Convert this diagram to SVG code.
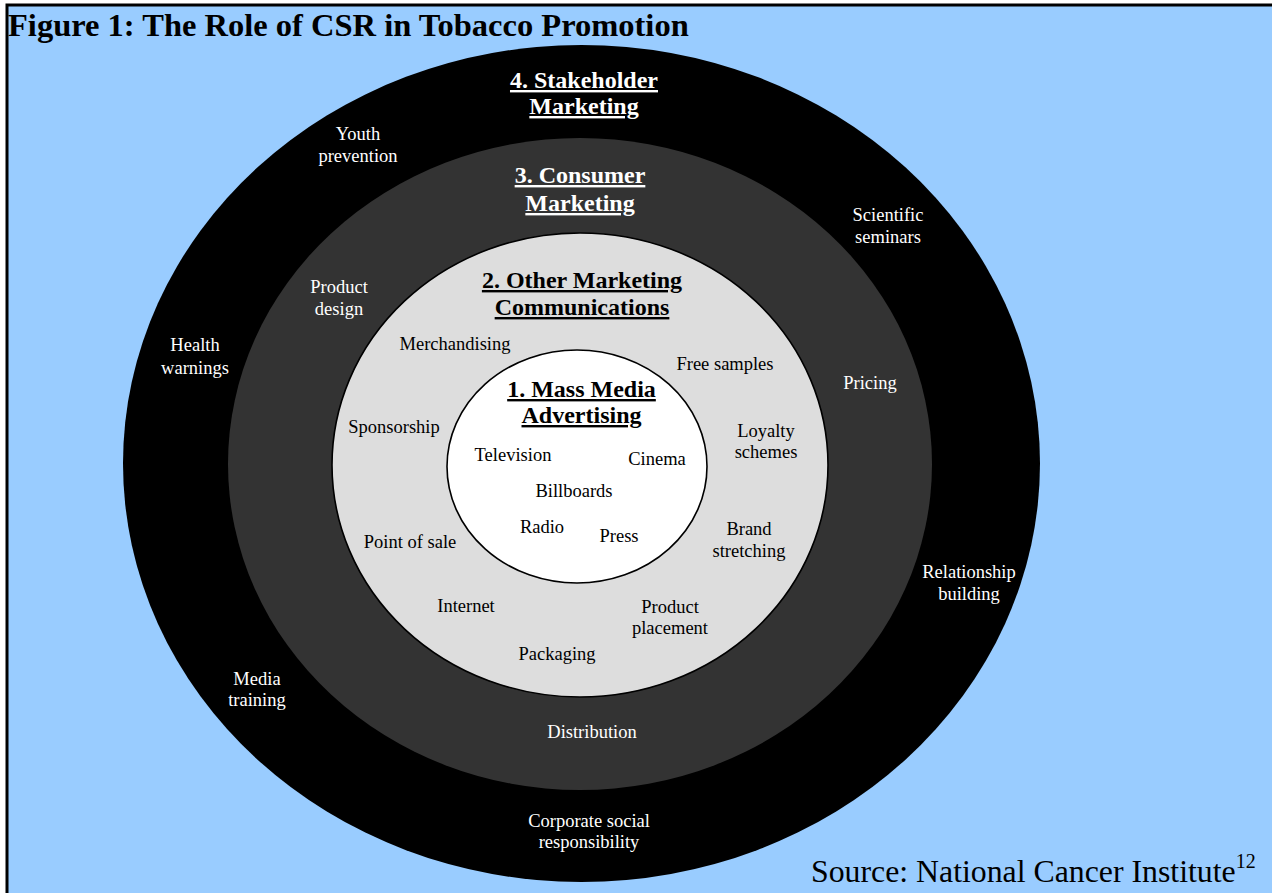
<svg xmlns="http://www.w3.org/2000/svg" width="1272" height="893" viewBox="0 0 1272 893">
<style>
.t{font-family:"Liberation Serif","Times New Roman",serif;font-size:18.5px;text-anchor:middle}
.w{fill:#FFFFFF}
.b{fill:#000000}
.h{font-family:"Liberation Serif","Times New Roman",serif;font-size:24px;font-weight:bold;text-anchor:middle;text-decoration:underline}
.ring{stroke:#000;stroke-width:1.6}
</style>
<rect x="0" y="0" width="1272" height="893" fill="#FFFFFF"/>
<rect id="frame" x="7" y="5" width="1300" height="1000" fill="#99CCFF" stroke="#000" stroke-width="3"/>
<g id="title">
<text x="8" y="36" font-family="Liberation Serif,Times New Roman,serif" font-size="32.5" font-weight="bold" fill="#000">Figure 1: The Role of CSR in Tobacco Promotion</text>
</g>
<g id="ring4">
<ellipse cx="581.5" cy="463.5" rx="458.5" ry="418.5" fill="#000"/>
<text class="h w" x="584" y="88">4. Stakeholder</text>
<text class="h w" x="584" y="114">Marketing</text>
<g id="youth"><text class="t w" x="358" y="140">Youth</text><text class="t w" x="358" y="162">prevention</text></g>
<g id="sci"><text class="t w" x="888" y="221">Scientific</text><text class="t w" x="888" y="243">seminars</text></g>
<g id="health"><text class="t w" x="195" y="351">Health</text><text class="t w" x="195" y="374">warnings</text></g>
<g id="relationship"><text class="t w" x="969" y="578">Relationship</text><text class="t w" x="969" y="600">building</text></g>
<g id="media"><text class="t w" x="257" y="685">Media</text><text class="t w" x="257" y="706">training</text></g>
<g id="csr"><text class="t w" x="589" y="827">Corporate social</text><text class="t w" x="589" y="848">responsibility</text></g>
</g>
<g id="ring3">
<ellipse cx="580" cy="464" rx="352" ry="326" fill="#333333"/>
<text class="h w" x="580" y="183">3. Consumer</text>
<text class="h w" x="580" y="211">Marketing</text>
<g id="design"><text class="t w" x="339" y="293">Product</text><text class="t w" x="339" y="315">design</text></g>
<g id="pricing"><text class="t w" x="870" y="389">Pricing</text></g>
<g id="distribution"><text class="t w" x="592" y="738">Distribution</text></g>
</g>
<g id="ring2">
<ellipse class="ring" cx="580" cy="465" rx="248" ry="232" fill="#DDDDDD"/>
<text class="h b" x="582" y="288">2. Other Marketing</text>
<text class="h b" x="582" y="315">Communications</text>
<g id="merch"><text class="t b" x="455" y="350">Merchandising</text></g>
<g id="free"><text class="t b" x="725" y="370">Free samples</text></g>
<g id="sponsor"><text class="t b" x="394" y="433">Sponsorship</text></g>
<g id="loyalty"><text class="t b" x="766" y="437">Loyalty</text><text class="t b" x="766" y="458">schemes</text></g>
<g id="pos"><text class="t b" x="410" y="548">Point of sale</text></g>
<g id="brand"><text class="t b" x="749" y="535">Brand</text><text class="t b" x="749" y="557">stretching</text></g>
<g id="internet"><text class="t b" x="466" y="612">Internet</text></g>
<g id="placement"><text class="t b" x="670" y="613">Product</text><text class="t b" x="670" y="634">placement</text></g>
<g id="packaging"><text class="t b" x="557" y="660">Packaging</text></g>
</g>
<g id="ring1">
<ellipse class="ring" cx="577" cy="466.5" rx="130" ry="116.5" fill="#FFFFFF"/>
<text class="h b" x="581.5" y="397">1. Mass Media</text>
<text class="h b" x="581.5" y="423">Advertising</text>
<g id="tv"><text class="t b" x="513" y="461">Television</text></g>
<g id="cinema"><text class="t b" x="657" y="465">Cinema</text></g>
<g id="billboards"><text class="t b" x="574" y="497">Billboards</text></g>
<g id="radio"><text class="t b" x="542" y="533">Radio</text></g>
<g id="press"><text class="t b" x="619" y="542">Press</text></g>
</g>
<g id="source">
<text x="811" y="882" font-family="Liberation Serif,Times New Roman,serif" font-size="31.8" fill="#000">Source: National Cancer Institute<tspan font-size="20" dy="-14">12</tspan></text>
</g>
</svg>
